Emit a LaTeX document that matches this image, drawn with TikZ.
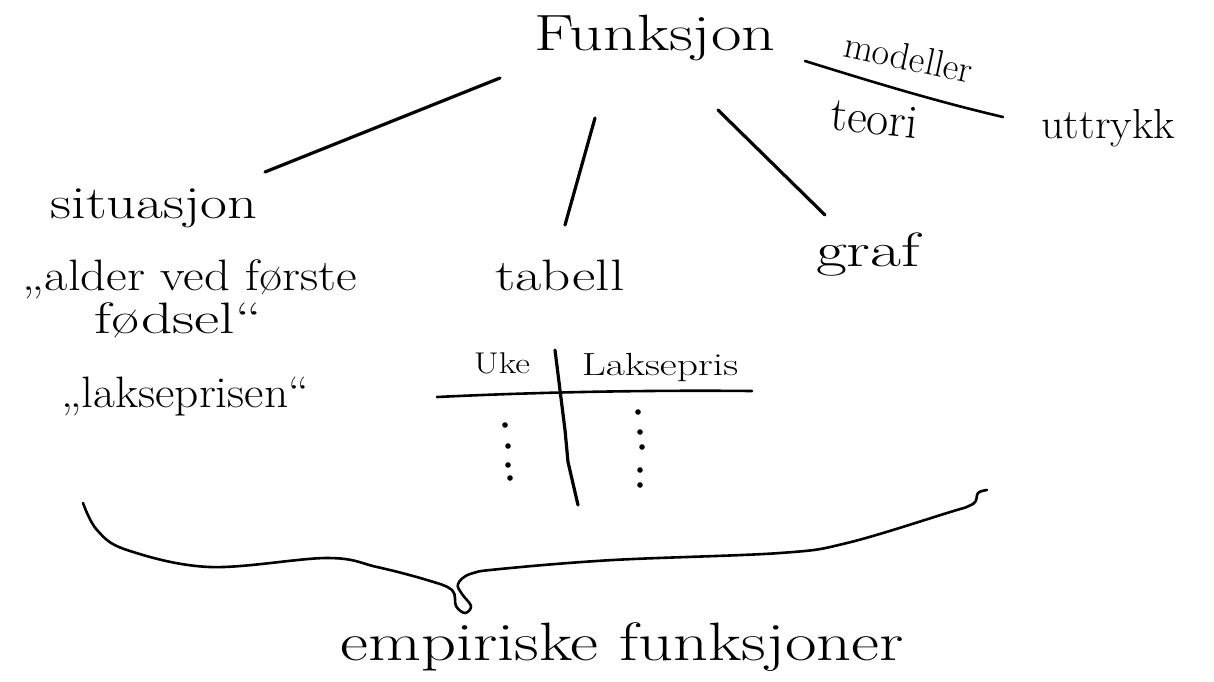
\documentclass[tikz,border=0pt]{standalone}
\usepackage{graphicx}
\newcommand{\hwtext}[2]{\scalebox{#1}[1]{#2}}
\tikzset{
  ink/.style={line width=3.2pt, line cap=round, line join=round, black},
  thinink/.style={line width=2.6pt, line cap=round, line join=round, black},
  lbl/.style={anchor=base, inner sep=0pt, outer sep=0pt},
  fs/.style={font=\fontsize{#1}{#1}\selectfont}
}
\begin{document}
\begin{tikzpicture}[x=1pt,y=-1pt]
\useasboundingbox (0,0) rectangle (1214,681);

% texts
\node[lbl,fs=51] (fun) at (655,50) {\hwtext{1.3}{Funksjon}};
\node[lbl,fs=38,rotate=-12] (mod) at (906,70) {modeller};
\node[lbl,fs=48,rotate=-6] (teo) at (873,134) {teori};
\node[lbl,fs=42] (utt) at (1108,138) {\hwtext{1.05}{uttrykk}};
\node[lbl,fs=46] (sit) at (154,218) {\hwtext{1.27}{situasjon}};
\node[lbl,fs=44] (ald) at (190,290) {\hwtext{1.15}{„alder ved første}};
\node[lbl,fs=44] (fod) at (178,333) {\hwtext{1.4}{fødsel“}};
\node[lbl,fs=44] (lak) at (185,407) {\hwtext{1.08}{„lakseprisen“}};
\node[lbl,fs=44] (tab) at (560,290) {\hwtext{1.3}{tabell}};
\node[lbl,fs=48] (gra) at (868,266) {\hwtext{1.4}{graf}};
\node[lbl,fs=30] (uke) at (502,373) {\hwtext{1.2}{Uke}};
\node[lbl,fs=32] (lpr) at (660,375) {\hwtext{1.3}{Laksepris}};
\node[lbl,fs=54] (emp) at (622,660) {\hwtext{1.27}{empiriske funksjoner}};

% connector end points
\coordinate (f1) at (500,78);  \coordinate (s1) at (265,172);
\coordinate (f2) at (595,118); \coordinate (t1) at (565,225);
\coordinate (f3) at (718,110); \coordinate (g1) at (825,215);
\coordinate (m1) at (805,61);  \coordinate (m2) at (1003,117);

\draw[ink] (f1) -- (s1);
\draw[ink] (f2) -- (t1);
\draw[ink] (f3) -- (g1);
\draw[thinink] (m1) .. controls (860,78) and (930,100) .. (m2);

% table
\coordinate (h1) at (437,397); \coordinate (h2) at (752,391);
\coordinate (v1) at (555,350); \coordinate (v2) at (578,505);
\draw[thinink] (h1) .. controls (540,392) and (650,390) .. (h2);
\draw[ink] (v1) -- (565,430) -- (568,462) -- (v2);
\foreach \p in {(505,425),(508,446),(508,465),(510,478),(638,412),(640,432),(642,447),(640,470),(640,485)}
  \fill \p circle (2.8pt);

% brace
\draw[thinink] plot[smooth, tension=0.6] coordinates {
  (83,503) (97,530) (127,550) (210,567) (327,558) (377,567) (427,580) (452,590)
  (456,606) (465,613) (471,606) (462,594) (458,584) (470,574) (500,569)
  (613,560) (780,553) (847,543) (947,513) (973,504) (978,493) (987,490)};
\end{tikzpicture}
\end{document}
